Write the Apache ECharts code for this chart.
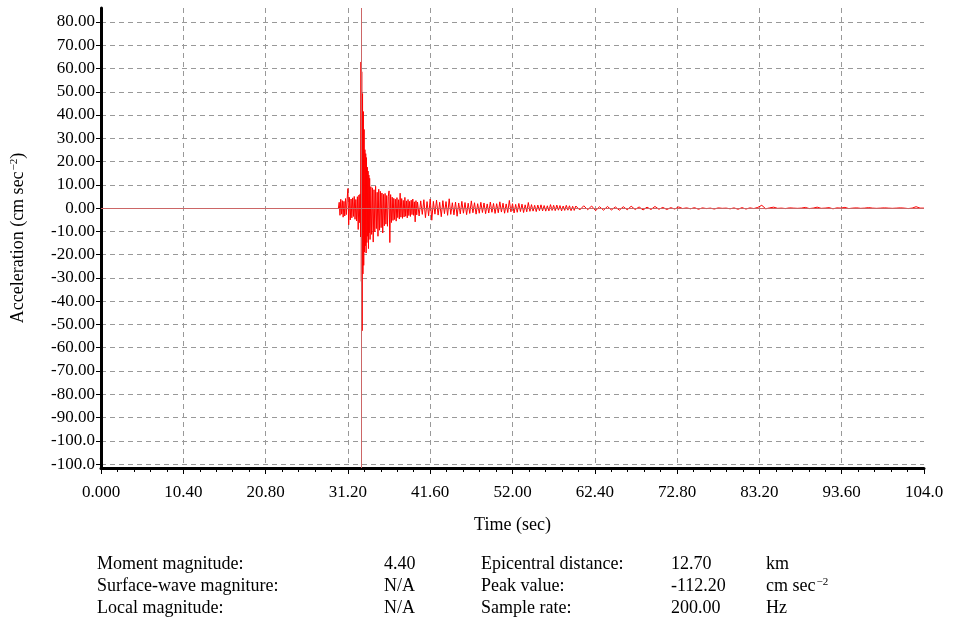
<!DOCTYPE html>
<html>
<head>
<meta charset="utf-8">
<script src="https://cdn.jsdelivr.net/npm/echarts@6/dist/echarts.min.js"></script>
<style>
html, body { margin: 0; padding: 0; background: #fff; }
#chart { width: 956px; height: 626px; }
</style>
</head>
<body>
<div id="chart"></div>
<script>
// 坐标轴刻度
const xTickLabels = ['0.000', '10.40', '20.80', '31.20', '41.60', '52.00', '62.40', '72.80', '83.20', '93.60', '104.0'];
const yTickValues = [80, 70, 60, 50, 40, 30, 20, 10, 0, -10, -20, -30, -40, -50, -60, -70, -80, -90, -100, -110];
const yTickLabels = ['80.00', '70.00', '60.00', '50.00', '40.00', '30.00', '20.00', '10.00', '0.00', '-10.00',
    '-20.00', '-30.00', '-40.00', '-50.00', '-60.00', '-70.00', '-80.00', '-90.00', '-100.0', '-100.0'];

// 触发标记时刻 (sec)
const markerTime = 32.85;

// 加速度记录，分段读取（起始时刻、采样间隔、数值）
const preStart = 30.0, preStep = 0.1;
const preValues = [0, 2.5, -3.1, 3.8, -2.6, 3.2, -3.9, 2.9, -3.4, 4.1,
    -2.8, 3.5, 8.4, -7.2, 4.6, -5.1, 3.9, -4.2, 4.4, -3.6,
    5.0, -4.8, 3.7, -5.5, 4.9, -9.2, 5.6, -6.3];

const mainStart = 32.75, mainStep = 0.05;
const mainValues = [6.1, -12.4, 62.8, -31.5, 58.6, -52.7, 49.2, -28.3, 41.5, -24.6,
    33.8, -18.9, 25.1, -16.2, 23.4, -19.3, 21.7, -14.8, 17.6, -12.1,
    15.9, -17.4, 14.2, -10.6, 12.8, -13.5];

const codaStart = 34.1, codaStep = 0.1;
const codaValues = [9.2, -11.3, 8.7, -14.6, 7.9, -10.2, 9.4, -8.8, 6.8, -12.1,
    8.1, -9.5, 7.2, -8.4, 6.5, -10.7, 5.9, -7.6, 6.3, -6.9,
    5.4, -7.8, 4.9, 7.4, -14.8, 5.8, -6.2, 4.7, -5.3, 4.2,
    -4.9, 3.8, -5.6, 4.5, -4.1, 3.6, -4.7, 6.4, -3.9, 4.1,
    -4.4, 3.3, -3.8, 4.6, -3.5, 3.1, -4.2, 3.7, -3.2, 2.9,
    -3.6, 3.4, -2.8, 3.9, -3.1, 2.7, -5.9, 3.2, -2.9, 2.6];

const tailStart = 40.2, tailStep = 0.2;
const tailValues = [-3.4, 3.1, -2.7, 3.6, -4.1, 2.8, -3.3, 3.9, -5.2, 2.9,
    -2.6, 3.4, -3.0, 2.5, -3.7, 3.2, -2.4, 2.8, -3.1, 4.0,
    -2.7, 2.3, -2.9, 2.6, -3.5, 2.2, -2.5, 2.9, -2.2, 2.4,
    -2.8, 2.1, -2.3, 3.1, -2.0, 2.3, -2.6, 1.9, -2.2, 2.5,
    -1.9, 2.2, -2.4, 1.8, -2.1, 2.6, -1.8, 2.0, -2.3, 1.9,
    -2.0, 2.7, -1.7, 2.1, -2.2, 1.8, -1.9, 3.3, -1.6, 1.9,
    -2.1, 1.6, -1.8, 2.0, -1.5, 1.7, -1.9, 1.4, -1.6, 2.4,
    -1.4, 1.5, -1.3, 1.2, -1.5, 1.3, -1.1, 1.4, -1.2, 1.1,
    -1.3, 1.0, -1.2, 1.5, -1.0, 1.2, -1.1, 1.3, -0.9, 1.1,
    -1.2, 0.9, -1.0, 1.2, -0.9, 1.0, -1.1, 0.8, -1.0, 0.9];

const endStart = 60.5, endStep = 0.5;
const endValues = [-0.8, 1.0, -0.7, 0.9, -1.1, 0.6, -0.9, 0.7, -0.8, 0.5,
    -0.9, 0.6, -0.7, 0.8, -0.6, 0.5, -0.8, 0.4, -0.6, 0.7,
    -0.5, 0.3, -0.6, 0.2, -0.4, 0.5, -0.2, 0.1, -0.3, 0.2,
    -0.5, 0.1, -0.2, 0.0, -0.4, 0.1, -0.1, 0.0, -0.3, 0.1,
    -0.5, 0.2, -0.4, 0.1, -0.2, 0.3, 1.2, -0.3, 0.1, 0.4,
    -0.1, 0.0, -0.2, 0.1, 0.0, -0.1, 0.0, 0.3, -0.2, 0.0,
    0.4, -0.1, 0.0, 0.2, -0.3, 0.1, 0.0, 0.3, -0.2, 0.0,
    0.1, -0.1, 0.0, 0.2, 0.0, -0.1, 0.0, 0.1, 0.0, -0.1,
    0.0, 0.1, 0.0, -0.2, 0.0, 0.6, 0.0, 0.0];

// 台站信息
const infoNames1 = ['Moment magnitude:', 'Surface-wave magniture:', 'Local magnitude:'];
const infoValues1 = ['4.40', 'N/A', 'N/A'];
const infoNames2 = ['Epicentral distance:', 'Peak value:', 'Sample rate:'];
const infoValues2 = ['12.70', '-112.20', '200.00'];
const infoUnits = ['km', 'cm sec{sup|−2}', 'Hz'];

const FONT = '"Liberation Serif", "Times New Roman", serif';
const MARKER_COLOR = '#cc6666';

function segment(start, step, values) {
    return values.map((v, i) => [Math.round((start + i * step) * 1000) / 1000, v]);
}

const waveData = [].concat(
    segment(preStart, preStep, preValues),
    segment(mainStart, mainStep, mainValues),
    segment(codaStart, codaStep, codaValues),
    segment(tailStart, tailStep, tailValues),
    segment(endStart, endStep, endValues)
);

const supStyle = { fontFamily: FONT, fontSize: 11, color: '#000', verticalAlign: 'top', padding: [0, 0, 6, 1] };

// 底部信息文字
const infoGraphics = [];
const rowY = [564, 586, 608];
rowY.forEach((y, i) => {
    const cols = [
        [97, infoNames1[i]], [384, infoValues1[i]],
        [481, infoNames2[i]], [671, infoValues2[i]], [766, infoUnits[i]]
    ];
    cols.forEach(([x, text]) => {
        infoGraphics.push({
            type: 'text',
            x: x,
            y: y,
            style: {
                text: text,
                fill: '#000',
                font: '18px ' + FONT,
                verticalAlign: 'middle',
                align: 'left',
                rich: { sup: supStyle }
            }
        });
    });
});

const chart = echarts.init(document.getElementById('chart'));

const option = {
    backgroundColor: '#fff',
    animation: false,
    grid: { left: 101, right: 32, top: 8, bottom: 158 },
    xAxis: {
        type: 'value',
        min: 0,
        max: 104,
        interval: 10.4,
        name: 'Time (sec)',
        nameLocation: 'middle',
        nameGap: 48,
        nameTextStyle: { fontFamily: FONT, fontSize: 18, color: '#000' },
        axisLine: { show: true, onZero: false, lineStyle: { color: '#000', width: 3 } },
        axisTick: { show: true, inside: false, length: 6, lineStyle: { color: '#000', width: 1 } },
        minorTick: { show: true, splitNumber: 5, length: 4, lineStyle: { color: '#000', width: 1 } },
        axisLabel: {
            fontFamily: FONT,
            fontSize: 17,
            color: '#000',
            margin: 16,
            formatter: v => xTickLabels[Math.round(v / 10.4)]
        },
        splitLine: {
            show: true,
            showMinLine: false,
            showMaxLine: false,
            lineStyle: { color: '#999', type: [5, 4], width: 1 }
        }
    },
    yAxis: {
        type: 'value',
        min: -111.7,
        max: 86,
        name: 'Acceleration (cm sec{sup|−2})',
        nameLocation: 'middle',
        nameRotate: 90,
        nameGap: 74,
        nameTextStyle: { fontFamily: FONT, fontSize: 18, color: '#000', rich: { sup: supStyle } },
        axisLine: { show: true, onZero: false, lineStyle: { color: '#000', width: 3 } },
        axisTick: {
            show: true,
            inside: false,
            length: 5,
            customValues: yTickValues,
            lineStyle: { color: '#000', width: 1 }
        },
        axisLabel: {
            fontFamily: FONT,
            fontSize: 17,
            color: '#000',
            margin: 6,
            customValues: yTickValues,
            formatter: v => yTickLabels[yTickValues.indexOf(Math.round(v))]
        },
        splitLine: {
            show: true,
            lineStyle: { color: '#999', type: [5, 4], width: 1 }
        }
    },
    series: [
        {
            name: 'reference',
            type: 'line',
            data: [],
            z: 1,
            markLine: {
                silent: true,
                symbol: 'none',
                label: { show: false },
                lineStyle: { color: MARKER_COLOR, width: 1, type: 'solid' },
                data: [{ xAxis: markerTime }, { yAxis: 0 }]
            }
        },
        {
            name: 'Acceleration',
            type: 'line',
            data: waveData,
            z: 3,
            showSymbol: false,
            lineStyle: { color: '#ff0000', width: 1 },
            itemStyle: { color: '#ff0000' }
        }
    ],
    graphic: infoGraphics
};

chart.setOption(option);
</script>
</body>
</html>
